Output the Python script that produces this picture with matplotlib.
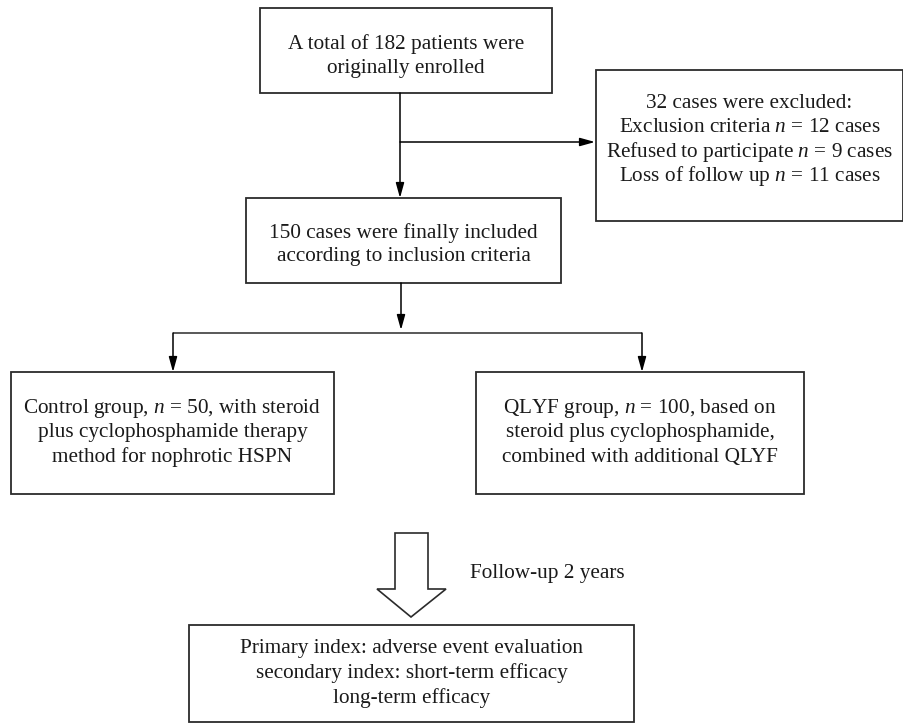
import matplotlib
matplotlib.use("Agg")
import matplotlib.pyplot as plt
from matplotlib.patches import Rectangle, Polygon

# 字体：衬线体，n 用斜体
plt.rcParams["font.family"] = ["Liberation Serif", "DejaVu Serif"]
plt.rcParams["mathtext.fontset"] = "custom"
plt.rcParams["mathtext.rm"] = "Liberation Serif"
plt.rcParams["mathtext.it"] = "Liberation Serif:italic"

# 数据
total_enrolled = 182
excluded_reasons = ["Exclusion criteria", "Refused to participate", "Loss of follow up"]
excluded_counts = [12, 9, 11]
included = 150
group_names = ["Control group", "QLYF group"]
group_sizes = [50, 100]
follow_up_years = 2

excluded_total = sum(excluded_counts)

top_lines = [f"A total of {total_enrolled} patients were", "originally enrolled"]
excl_lines = [f"{excluded_total} cases were excluded:"] + [
    f"{r} $n$ = {c} cases" for r, c in zip(excluded_reasons, excluded_counts)
]
incl_lines = [f"{included} cases were finally included", "according to inclusion criteria"]
ctrl_lines = [f"{group_names[0]}, $n$ = {group_sizes[0]}, with steroid",
              "plus cyclophosphamide therapy",
              "method for nophrotic HSPN"]
qlyf_lines = [f"{group_names[1]}, $n$ = {group_sizes[1]}, based on",
              "steroid plus cyclophosphamide,",
              "combined with additional QLYF"]
outcome_lines = ["Primary index: adverse event evaluation",
                 "secondary index: short-term efficacy",
                 "long-term efficacy"]
follow_label = f"Follow-up {follow_up_years} years"

line_col = "#2b2b2b"
text_col = "#1a1a1a"
fs = 15.3

fig = plt.figure(figsize=(9.04, 7.24), dpi=100)
ax = fig.add_axes([0, 0, 1, 1])
ax.set_xlim(0, 904)
ax.set_ylim(724, 0)
ax.axis("off")


def box(x0, y0, x1, y1, lines, base, step):
    # base: 第一行文字基线位置
    ax.add_patch(Rectangle((x0, y0), x1 - x0, y1 - y0, fill=False,
                           ec=line_col, lw=1.3))
    cx = (x0 + x1) / 2
    for i, s in enumerate(lines):
        ax.text(cx, base + i * step, s, ha="center", va="baseline",
                fontsize=fs, color=text_col)


def arrow(x0, y0, x1, y1):
    ax.annotate("", xy=(x1, y1), xytext=(x0, y0),
                arrowprops=dict(arrowstyle="-|>,head_length=0.9,head_width=0.25",
                                color="black", lw=1.1, shrinkA=0, shrinkB=0))


def seg(xs, ys):
    ax.plot(xs, ys, color=line_col, lw=1.1, solid_capstyle="butt")


# 方框
box(260, 8, 552, 93, top_lines, 49, 23.5)
box(596, 70, 903, 221, excl_lines, 108, 24.5)
box(246, 198, 561, 283, incl_lines, 238, 23.5)
box(11, 372, 334, 494, ctrl_lines, 413, 24.5)
box(476, 372, 804, 494, qlyf_lines, 413, 24.5)
box(189, 625, 634, 722, outcome_lines, 653, 25)

# 连接线与箭头
arrow(400, 93, 400, 198)
arrow(400, 142, 595, 142)
arrow(401, 283, 401, 330)
seg([173, 642], [333, 333])
arrow(173, 333, 173, 372)
arrow(642, 333, 642, 372)

# 空心大箭头
ax.add_patch(Polygon([(395, 533), (428, 533), (428, 589), (446, 589),
                      (411, 617), (377, 589), (395, 589)],
                     closed=True, fill=False, ec=line_col, lw=1.2))
ax.text(470, 578, follow_label, ha="left", va="baseline", fontsize=fs, color=text_col)

fig.savefig("out.png", dpi=100)
